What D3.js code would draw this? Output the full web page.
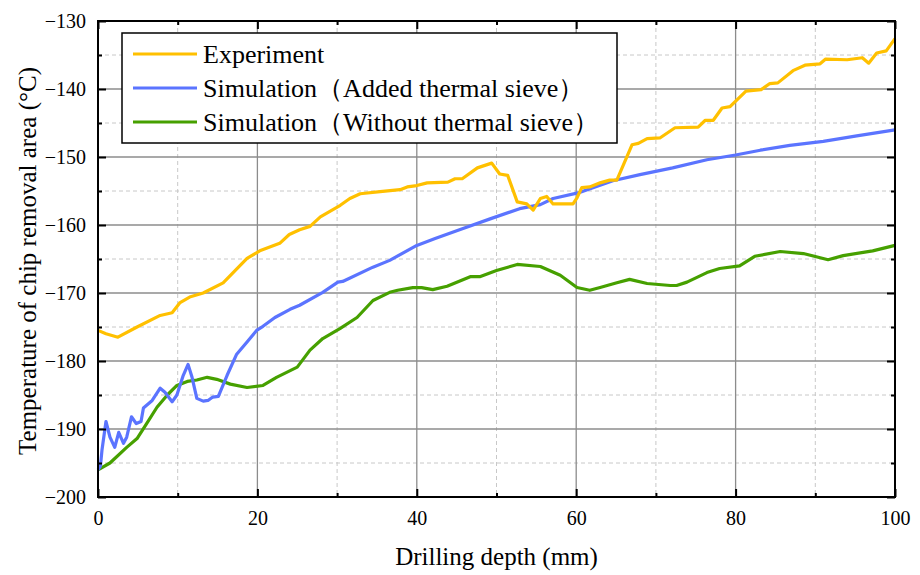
<!DOCTYPE html>
<html>
<head>
<meta charset="utf-8">
<script src="https://cdn.jsdelivr.net/npm/d3@7"></script>
<style>
  body { margin: 0; background: #fff; }
  text { font-family: "Liberation Serif", "Times New Roman", serif; }
</style>
</head>
<body>
<script>
// datos
const seriesNames = ["Experiment", "Simulation（Added thermal sieve）", "Simulation（Without thermal sieve）"];
const seriesColors = ["#FFC000", "#5B74FF", "#46A000"];

const expDepth = [0, 1, 2.5, 4.9, 7.8, 9.3, 10.3, 11.5, 13.2, 15.7, 18.7, 20.3, 22.8, 24, 25.3, 26.6, 27.9, 30.4, 31.6, 32.9, 35.4, 37.9, 38.8, 40, 41.3, 43.9, 44.8, 45.7, 47.6, 49.4, 50.4, 51.4, 52.6, 53.8, 54.6, 55.5, 56.3, 57.1, 59.6, 60.1, 60.7, 61.7, 63, 64.2, 65.1, 67, 67.8, 68.9, 70.5, 72.4, 75.3, 76.2, 77.2, 78.3, 79.3, 81.3, 83.2, 84.3, 85.3, 87.2, 88.7, 90.6, 91.3, 94, 95.9, 96.7, 97.7, 98.9, 100];
const expTemp = [-175.5, -176, -176.5, -175, -173.3, -172.9, -171.4, -170.6, -170, -168.5, -164.9, -163.8, -162.7, -161.4, -160.7, -160.2, -158.8, -157.1, -156.1, -155.4, -155.1, -154.8, -154.4, -154.2, -153.8, -153.7, -153.2, -153.2, -151.6, -150.9, -152.5, -152.7, -156.6, -156.9, -157.8, -156.1, -155.8, -156.9, -156.9, -156, -154.5, -154.4, -153.8, -153.4, -153.4, -148.2, -148, -147.3, -147.2, -145.7, -145.6, -144.6, -144.6, -142.8, -142.6, -140.3, -140.1, -139.2, -139.1, -137.3, -136.5, -136.3, -135.6, -135.7, -135.4, -136.2, -134.7, -134.4, -132.6];

const simADepth = [0, 0.3, 0.5, 1.0, 1.5, 2.1, 2.6, 3.2, 3.6, 4.2, 4.8, 5.4, 5.7, 6.8, 7.8, 8.4, 9.3, 9.9, 10.7, 11.3, 11.8, 12.4, 13.2, 13.8, 14.4, 15.1, 16.2, 17.4, 18.7, 19.9, 20.7, 22.2, 24.1, 25.3, 28.2, 30.1, 30.7, 34.5, 36.6, 40, 42.3, 45.8, 49.2, 52.9, 55.5, 57.1, 60.5, 64.6, 68, 72.1, 76.4, 80, 83.1, 86.8, 91, 95.2, 100];
const simATemp = [-196, -195.5, -193.1, -188.9, -191.2, -192.7, -190.5, -192.1, -191.2, -188.2, -189.2, -188.9, -186.9, -185.8, -184, -184.6, -186, -185, -182.1, -180.5, -182.4, -185.5, -185.9, -185.8, -185.3, -185.2, -182.1, -179, -177.2, -175.5, -174.9, -173.6, -172.4, -171.8, -169.9, -168.4, -168.3, -166.2, -165.2, -163, -162, -160.5, -159.1, -157.6, -157, -156.1, -155.2, -153.5, -152.6, -151.6, -150.4, -149.7, -149, -148.3, -147.7, -146.9, -146];

const simBDepth = [0, 1.5, 3.6, 4.9, 6.1, 7.4, 8.7, 9.9, 11.2, 12.4, 13.7, 14.9, 16.6, 18.7, 20.7, 22.4, 25, 26.6, 28.2, 30.4, 32.5, 34.5, 36.6, 37.6, 39.5, 40.6, 42, 43.8, 46.7, 47.9, 50, 52.6, 55.5, 58, 60.1, 61.7, 63, 65.1, 66.7, 68.9, 71.8, 72.6, 73.9, 76.4, 78, 80.5, 82.4, 85.6, 88.5, 91.6, 93.5, 97.2, 100];
const simBTemp = [-196, -195, -192.7, -191.4, -189.2, -186.8, -185, -183.6, -183, -182.8, -182.4, -182.7, -183.4, -183.9, -183.6, -182.4, -180.9, -178.4, -176.7, -175.2, -173.6, -171.1, -169.9, -169.6, -169.2, -169.2, -169.5, -169, -167.6, -167.6, -166.7, -165.8, -166.1, -167.4, -169.2, -169.6, -169.2, -168.5, -168, -168.6, -168.9, -168.9, -168.4, -167, -166.4, -166, -164.6, -163.9, -164.2, -165.1, -164.5, -163.8, -163];

const xMajor = [0, 20, 40, 60, 80, 100];
const xMinor = [10, 30, 50, 70, 90];
const yMajor = [-200, -190, -180, -170, -160, -150, -140, -130];
const yMinor = [-195, -185, -175, -165, -155, -145, -135];

const margin = {top: 21, right: 25, bottom: 78, left: 98};
const width = 920 - margin.left - margin.right;
const height = 575 - margin.top - margin.bottom;

const svg = d3.select("body").append("svg")
    .attr("width", 920)
    .attr("height", 575);
const g = svg.append("g")
    .attr("transform", "translate(" + margin.left + "," + margin.top + ")");

const x = d3.scaleLinear().domain([0, 100]).range([0, width]);
const y = d3.scaleLinear().domain([-200, -130]).range([height, 0]);

// rejilla menor (discontinua)
g.append("g").selectAll("line").data(xMinor).join("line")
    .attr("x1", d => x(d)).attr("x2", d => x(d)).attr("y1", 0).attr("y2", height)
    .attr("stroke", "#c8c8c8").attr("stroke-width", 1).attr("stroke-dasharray", "4,3");
g.append("g").selectAll("line").data(yMinor).join("line")
    .attr("y1", d => y(d)).attr("y2", d => y(d)).attr("x1", 0).attr("x2", width)
    .attr("stroke", "#c8c8c8").attr("stroke-width", 1).attr("stroke-dasharray", "4,3");
// rejilla mayor
g.append("g").selectAll("line").data(xMajor.slice(1, -1)).join("line")
    .attr("x1", d => x(d)).attr("x2", d => x(d)).attr("y1", 0).attr("y2", height)
    .attr("stroke", "#8c8c8c").attr("stroke-width", 1.3);
g.append("g").selectAll("line").data(yMajor.slice(1, -1)).join("line")
    .attr("y1", d => y(d)).attr("y2", d => y(d)).attr("x1", 0).attr("x2", width)
    .attr("stroke", "#8c8c8c").attr("stroke-width", 1.3);

// lineas
const linea = d3.line().x(d => x(d[0])).y(d => y(d[1]));
const datos = [
  d3.zip(expDepth, expTemp),
  d3.zip(simADepth, simATemp),
  d3.zip(simBDepth, simBTemp)
];
[2, 1, 0].forEach(i => {
  g.append("path")
      .datum(datos[i])
      .attr("fill", "none")
      .attr("stroke", seriesColors[i])
      .attr("stroke-width", 3.2)
      .attr("stroke-linejoin", "round")
      .attr("d", linea);
});

// ejes con ticks hacia dentro
function ejes() {
  const fmt = d3.format("d");
  g.append("g").attr("transform", "translate(0," + height + ")")
      .call(d3.axisBottom(x).tickValues(xMajor).tickSize(-8).tickPadding(14).tickFormat(fmt));
  g.append("g").attr("transform", "translate(0," + height + ")")
      .call(d3.axisBottom(x).tickValues(xMinor).tickSize(-4).tickFormat(""));
  g.append("g")
      .call(d3.axisLeft(y).tickValues(yMajor).tickSize(-8).tickPadding(12).tickFormat(d => d.toString().replace("-", "\u2212")));
  g.append("g").call(d3.axisLeft(y).tickValues(yMinor).tickSize(-4).tickFormat(""));
  g.append("g").call(d3.axisTop(x).tickValues(xMajor).tickSize(-8).tickFormat(""));
  g.append("g").call(d3.axisTop(x).tickValues(xMinor).tickSize(-4).tickFormat(""));
  g.append("g").attr("transform", "translate(" + width + ",0)")
      .call(d3.axisRight(y).tickValues(yMajor).tickSize(-8).tickFormat(""));
  g.append("g").attr("transform", "translate(" + width + ",0)")
      .call(d3.axisRight(y).tickValues(yMinor).tickSize(-4).tickFormat(""));
  g.selectAll(".domain").remove();
  g.selectAll(".tick line").attr("stroke", "#000").attr("stroke-width", 2);
  g.selectAll(".tick text").attr("font-family", "Liberation Serif").attr("font-size", 20).attr("fill", "#000");
}
ejes();

g.append("rect")
    .attr("x", 0).attr("y", 0).attr("width", width).attr("height", height)
    .attr("fill", "none").attr("stroke", "#000").attr("stroke-width", 2);

// leyenda
const leg = g.append("g").attr("transform", "translate(" + (122 - margin.left) + "," + (33 - margin.top) + ")");
leg.append("rect").attr("width", 495).attr("height", 110)
    .attr("fill", "#fff").attr("stroke", "#000").attr("stroke-width", 1.5);
seriesNames.forEach((n, i) => {
  const yy = 21 + i * 34;
  leg.append("line").attr("x1", 11).attr("x2", 75).attr("y1", yy).attr("y2", yy)
      .attr("stroke", seriesColors[i]).attr("stroke-width", 3.2);
  leg.append("text").attr("x", 81).attr("y", yy + 9).text(n)
      .attr("font-family", "Liberation Serif, Noto Sans CJK SC")
      .attr("font-size", 26).attr("fill", "#000");
});

// titulos de ejes
svg.append("text")
    .attr("x", margin.left + width / 2).attr("y", 565)
    .attr("text-anchor", "middle").attr("font-size", 25)
    .text("Drilling depth (mm)");
svg.append("text")
    .attr("transform", "translate(36," + (margin.top + height / 2 + 2) + ") rotate(-90)")
    .attr("text-anchor", "middle").attr("font-size", 25)
    .text("Temperature of chip removal area (°C)");
</script>
</body>
</html>
